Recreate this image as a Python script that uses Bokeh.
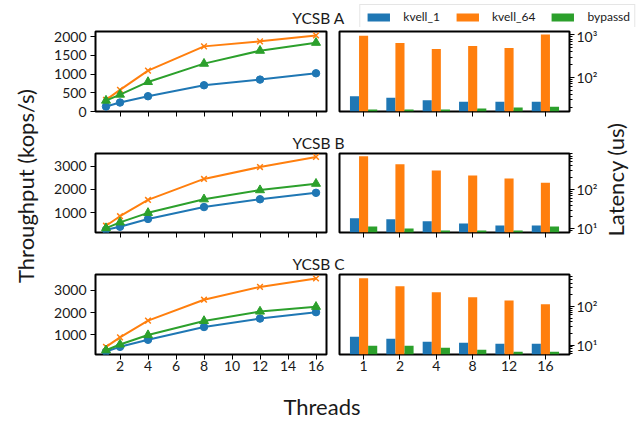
import math
from bokeh.plotting import figure
from bokeh.layouts import row, column
from bokeh.models import (Range1d, FactorRange, FixedTicker, Legend, LegendItem,
                          Label, ColumnDataSource)
from bokeh.transform import dodge
from bokeh.embed import file_html
from bokeh.resources import INLINE

# ---------------- data ----------------
threads = [1, 2, 4, 8, 12, 16]
thread_labels = ["1", "2", "4", "8", "12", "16"]
series = ["kvell_1", "kvell_64", "bypassd"]
workloads = ["YCSB A", "YCSB B", "YCSB C"]

# Throughput (kops/s)
tput_a_kvell_1 = [133, 240, 409, 702, 853, 1022]
tput_a_kvell_64 = [311, 578, 1093, 1742, 1876, 2036]
tput_a_bypassd = [293, 453, 791, 1280, 1627, 1840]
tput_b_kvell_1 = [275, 406, 739, 1246, 1580, 1855]
tput_b_kvell_64 = [449, 855, 1551, 2449, 2957, 3391]
tput_b_bypassd = [348, 594, 1000, 1580, 1971, 2246]
tput_c_kvell_1 = [242, 455, 773, 1348, 1727, 2015]
tput_c_kvell_64 = [455, 879, 1636, 2576, 3152, 3530]
tput_c_bypassd = [303, 561, 985, 1621, 2045, 2258]

# Latency (us)
lat_a_kvell_1 = [36, 33, 29, 26.5, 26.5, 26.5]
lat_a_kvell_64 = [963, 650, 464, 549, 490, 1019]
lat_a_bypassd = [17.5, 17.5, 17.5, 18.5, 19.6, 20.3]
lat_b_kvell_1 = [18.5, 17.4, 15.5, 13.7, 12.2, 12.2]
lat_b_kvell_64 = [700, 434, 304, 226, 189, 149]
lat_b_bypassd = [11.5, 10.2, 9.0, 9.0, 9.0, 11.5]
lat_c_kvell_1 = [16.5, 14.6, 12.2, 11.5, 10.8, 10.8]
lat_c_kvell_64 = [537, 332, 232, 172, 143, 113]
lat_c_bypassd = [9.6, 9.6, 8.5, 7.6, 6.7, 6.7]

tput_yticks_a = [0, 500, 1000, 1500, 2000]
tput_yticks_bc = [1000, 2000, 3000]
tput_xticks = [2, 4, 6, 8, 10, 12, 14, 16]
lat_yticks = [10, 100, 1000]
lat_ytick_labels = ["10\u00b9", "10\u00b2", "10\u00b3"]

# ---------------- style ----------------
FONT = "Lato"
COLORS = ["#1f77b4", "#ff7f0e", "#2ca02c"]
MARKERS = ["circle", "x", "triangle"]
MSIZE = [7.5, 8, 9]
TXT = "#1a1a1a"

LEFT_W, RIGHT_W = 288, 267
LAB_L_W, LAB_R_W = 45, 39
MID_W = LEFT_W + RIGHT_W
TOTAL_W = LAB_L_W + MID_W + LAB_R_W   # 639
TOP_H = 27


def base_style(p):
    p.outline_line_color = "black"
    p.outline_line_width = 2
    p.outline_line_alpha = 1
    p.background_fill_color = "white"
    p.border_fill_color = "white"
    p.xgrid.visible = False
    p.ygrid.visible = False
    for ax in p.axis:
        ax.axis_line_color = None
        ax.major_tick_line_color = "black"
        ax.major_tick_line_width = 1
        ax.major_tick_in = 0
        ax.major_tick_out = 5
        ax.minor_tick_line_color = None
        ax.major_label_text_font = FONT
        ax.major_label_text_font_size = "14px"
        ax.major_label_text_color = TXT


def make_left(vals, y_lo, y_hi, yticks, h, b_top, b_bottom, show_x):
    p = figure(width=LEFT_W, height=h, output_backend="svg", toolbar_location=None,
               x_range=Range1d(0.25, 16.75), y_range=Range1d(y_lo, y_hi),
               min_border_left=50, min_border_right=7,
               min_border_top=b_top, min_border_bottom=b_bottom)
    base_style(p)
    for v, c, m, s in zip(vals, COLORS, MARKERS, MSIZE):
        p.line(threads, v, line_color=c, line_width=2)
        if m == "x":
            p.scatter(threads, v, marker=m, size=s, line_color=c, line_width=1.5)
        else:
            p.scatter(threads, v, marker=m, size=s, fill_color=c, line_color=c)
    p.xaxis.ticker = FixedTicker(ticks=tput_xticks)
    p.yaxis.ticker = FixedTicker(ticks=yticks)
    p.yaxis.major_label_standoff = 4
    p.xaxis.major_label_standoff = 1
    if not show_x:
        p.xaxis.major_label_text_color = None
    return p


def make_right(vals, y_lo, y_hi, h, b_top, b_bottom, show_x):
    data = {"threads": thread_labels}
    for n, v in zip(series, vals):
        data[n] = v
    src = ColumnDataSource(data)
    p = figure(width=RIGHT_W, height=h, output_backend="svg", toolbar_location=None,
               x_range=FactorRange(factors=thread_labels, range_padding=0.1625,
                                   range_padding_units="absolute"),
               y_range=Range1d(y_lo, y_hi), y_axis_type="log", y_axis_location="right",
               min_border_left=6, min_border_right=29,
               min_border_top=b_top, min_border_bottom=b_bottom)
    base_style(p)
    for n, c, off in zip(series, COLORS, [-0.25, 0.0, 0.25]):
        p.vbar(x=dodge("threads", off, range=p.x_range), top=n, bottom=1, width=0.25,
               source=src, fill_color=c, line_color=None)
    minor = [m * 10 ** e for e in range(0, 3) for m in range(2, 10)]
    p.yaxis.ticker = FixedTicker(ticks=lat_yticks, minor_ticks=minor)
    p.yaxis.major_label_overrides = {t: l for t, l in zip(lat_yticks, lat_ytick_labels)}
    p.yaxis.minor_tick_line_color = "black"
    p.yaxis.minor_tick_in = 0
    p.yaxis.minor_tick_out = 3
    p.yaxis.major_label_standoff = 2
    p.xaxis.major_label_standoff = 1
    if not show_x:
        p.xaxis.major_label_text_color = None
    return p


def strip(w, h):
    s = figure(width=w, height=h, output_backend="svg", toolbar_location=None,
               x_range=Range1d(0, w), y_range=Range1d(0, h),
               x_axis_type=None, y_axis_type=None, min_border=0)
    s.outline_line_color = None
    s.background_fill_color = "white"
    s.border_fill_color = "white"
    s.xgrid.visible = False
    s.ygrid.visible = False
    return s


def add_text(s, x, y, text, size, angle=0.0):
    s.add_layout(Label(x=x, y=y, text=text, angle=angle, text_font=FONT,
                       text_font_size=size, text_color=TXT, text_align="center",
                       text_baseline="alphabetic"))


# ---------------- top strip: title A + legend ----------------
top = strip(TOTAL_W, TOP_H)
add_text(top, 318, 10, workloads[0], "15.5px")
dummies = [top.vbar(x=threads, top=v, width=0.25, fill_color=c, line_color=None, visible=False)
           for v, c in zip([lat_a_kvell_1, lat_a_kvell_64, lat_a_bypassd], COLORS)]
legend = Legend(items=[LegendItem(label=n, renderers=[r]) for n, r in zip(series, dummies)],
                orientation="horizontal", location="top_right", margin=4, padding=4,
                spacing=13, glyph_width=28, glyph_height=10, label_standoff=11,
                label_height=12, label_text_font=FONT, label_text_font_size="12px",
                label_text_color=TXT, border_line_color="#cccccc", border_line_width=1,
                background_fill_color="white", background_fill_alpha=0.8,
                inactive_fill_alpha=0)
top.add_layout(legend)

# ---------------- rows ----------------
l1 = make_left([tput_a_kvell_1, tput_a_kvell_64, tput_a_bypassd], 0, 2140, tput_yticks_a,
               93, 4, 9, False)
r1 = make_right([lat_a_kvell_1, lat_a_kvell_64, lat_a_bypassd], 15.7, 1206, 93, 4, 9, False)

sB = strip(MID_W, 31)
add_text(sB, 273, 9, workloads[1], "15.5px")

l2 = make_left([tput_b_kvell_1, tput_b_kvell_64, tput_b_bypassd], 159, 3536, tput_yticks_bc,
               91, 2, 10, False)
r2 = make_right([lat_b_kvell_1, lat_b_kvell_64, lat_b_bypassd], 8.04, 820, 91, 2, 10, False)

sC = strip(MID_W, 30)
add_text(sC, 273, 9, workloads[2], "15.5px")

l3 = make_left([tput_c_kvell_1, tput_c_kvell_64, tput_c_bypassd], 110, 3710, tput_yticks_bc,
               112, 2, 30, True)
r3 = make_right([lat_c_kvell_1, lat_c_kvell_64, lat_c_bypassd], 5.7, 670, 112, 2, 30, True)

sT = strip(MID_W, 36)
add_text(sT, 276.5, 14.5, "Threads", "22px")

mid = column(row(l1, r1), sB, row(l2, r2), sC, row(l3, r3), sT)

SIDE_H = 420 - TOP_H
lab_l = strip(LAB_L_W, SIDE_H)
add_text(lab_l, 24.5, 234.5, "Throughput (kops/s)", "22px", angle=math.pi / 2)
lab_r = strip(LAB_R_W, SIDE_H)
add_text(lab_r, 15, 241, "Latency (us)", "22px", angle=math.pi / 2)

page = column(top, row(lab_l, mid, lab_r))

open("out.html", "w").write(file_html(page, INLINE))
